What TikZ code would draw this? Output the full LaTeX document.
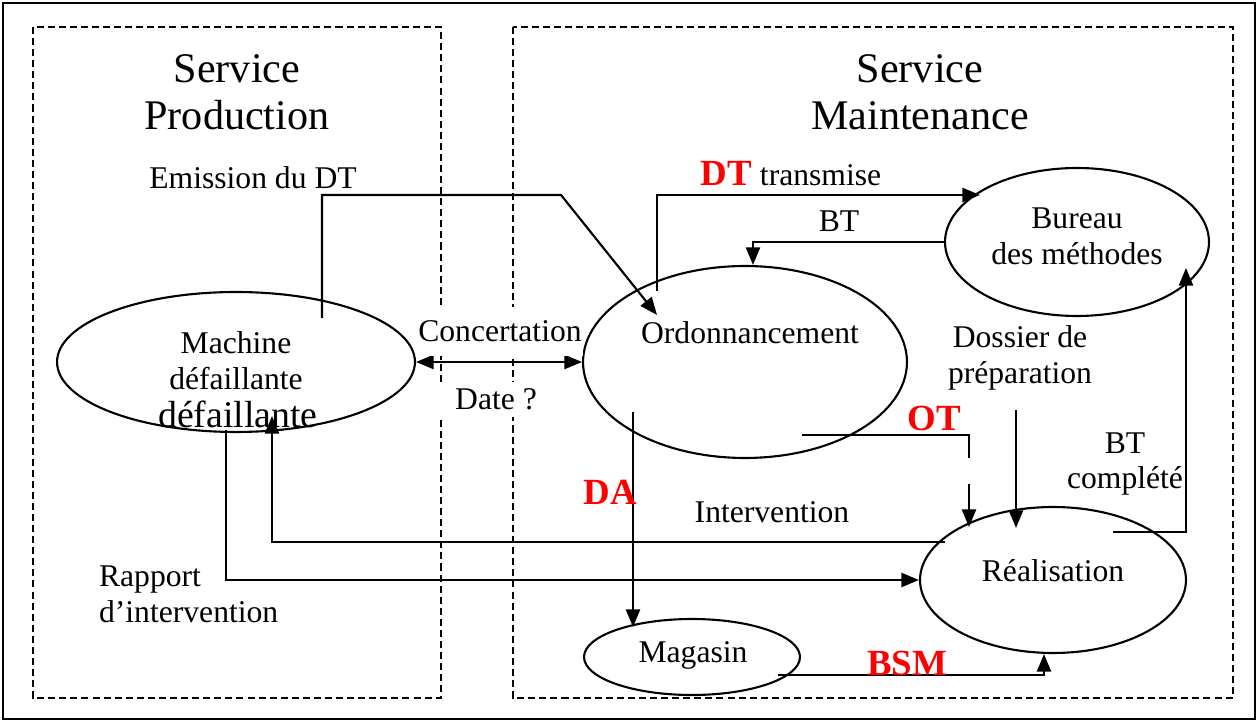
\documentclass[tikz,border=0pt]{standalone}
\usepackage{fontspec}
\setmainfont{Liberation Serif}
\usetikzlibrary{shapes.geometric,arrows.meta}

\newcommand{\enrouge}[1]{\textcolor{red}{\fontsize{21}{24}\selectfont\bfseries #1}}

\tikzset{
  oval/.style={draw, ellipse, line width=1.2pt, inner sep=0pt},
  zone/.style={draw, dash pattern=on 4pt off 2.3pt, line width=1.1pt},
  lien/.style={line width=1.2pt},
  fleche/.style={->, line width=1.2pt},
  txt/.style={font=\fontsize{18}{20.4}\selectfont, inner sep=1pt},
  titre/.style={font=\fontsize{24}{26.7}\selectfont, align=center},
  rouge/.style={font=\fontsize{21}{24}\selectfont\bfseries, text=red, inner sep=1pt}
}

\begin{document}
\begin{tikzpicture}[x=0.02cm,y=-0.02cm,>={Triangle[length=10pt,width=8pt]}]
\useasboundingbox (0,0) rectangle (1258,722);
\draw[line width=1.1pt] (3,3) rectangle (1255,719);

% les deux services
\draw[zone] (33,27) rectangle (441,698);
\draw[zone] (513,27) rectangle (1233,698);

\node[titre] (prodtitre) at (237,92) {Service\\Production};
\node[titre] (maintitre) at (920,92) {Service\\Maintenance};

% ellipses
\node[oval, minimum width=7.16cm, minimum height=2.8cm] (machine) at (236,362) {};
\node[oval, minimum width=6.48cm, minimum height=3.84cm] (ordo) at (745,362) {};
\node[oval, minimum width=5.28cm, minimum height=2.96cm] (bureau) at (1077,242) {};
\node[oval, minimum width=5.32cm, minimum height=2.92cm] (real) at (1053,580) {};
\node[oval, minimum width=4.32cm, minimum height=1.52cm] (magasin) at (692,657) {};

\node[txt, align=center] (machinetxt) at (236,361) {Machine\\défaillante};
\node[anchor=base, font=\fontsize{21.5}{24}\selectfont, inner sep=1pt] (machinebis) at (238,428) {défaillante};
\node[txt, anchor=base] (ordotxt) at (750,344) {Ordonnancement};
\node[txt, align=center] (bureautxt) at (1077,236) {Bureau\\des méthodes};
\node[txt, anchor=base] (realtxt) at (1053,582) {Réalisation};
\node[txt, anchor=base] (magtxt) at (693,663) {Magasin};

% fleches
\coordinate (dtcoude) at (561,195);
\draw[fleche] ([shift={(86,-44)}]machine.center) |- (dtcoude) -- ([shift={(-88,-47)}]ordo.center);
\draw[fleche] ([shift={(-88,-71)}]ordo.center) |- ([shift={(-97,-47)}]bureau.center);
\draw[fleche] (bureau.west) -| ([shift={(8,0)}]ordo.north);
\draw[<->, line width=1.2pt] (machine.east) -- (ordo.west);

\draw[lien] ([shift={(57,73)}]ordo.center) -| ([shift={(-84,-122)}]real.center);
\draw[fleche] ([shift={(-84,-96)}]real.center) -- ([shift={(-84,-53)}]real.center);

\coordinate (dossdebut) at (1016,410);
\draw[fleche] (dossdebut) -- ([shift={(-37,-52)}]real.center);
\draw[fleche] ([shift={(60,-48)}]real.center) -| ([shift={(109,26)}]bureau.center);

\draw[fleche] ([shift={(-108,-38)}]real.center) -| ([shift={(36,54)}]machine.center);
\draw[fleche] ([shift={(-10,68)}]machine.center) |- (real.west);

\draw[fleche] ([shift={(-112,50)}]ordo.center) -- ([shift={(-59,-30)}]magasin.center);
\draw[fleche] ([shift={(86,18)}]magasin.center) -| ([shift={(-9,0)}]real.south);

% etiquettes
\node[txt, anchor=base] (emission) at (253,189) {Emission du DT};
\node[txt, anchor=base] (dttrans) at (791,186) {\enrouge{DT} transmise};
\node[txt, anchor=base] (btlabel) at (839,232) {BT};
\node[txt, anchor=base, fill=white, inner ysep=8pt] (concert) at (500,342) {Concertation};
\node[txt, anchor=base, fill=white, inner ysep=4pt, minimum width=3.2cm] (date) at (496,410) {Date ?};
\node[txt, align=center] (dossier) at (1020,358) {Dossier de\\préparation};
\node[rouge, anchor=base] (otlabel) at (934,431) {OT};
\node[txt, align=center] (btcomp) at (1125,464) {BT\\complété};
\node[rouge, anchor=base] (dalabel) at (610,505) {DA};
\node[txt, anchor=base] (interv) at (772,523) {Intervention};
\node[txt, align=left, anchor=west] (rapport) at (97,594) {Rapport\\d’intervention};
\node[rouge, anchor=base] (bsmlabel) at (907,675) {BSM};

\end{tikzpicture}
\end{document}
